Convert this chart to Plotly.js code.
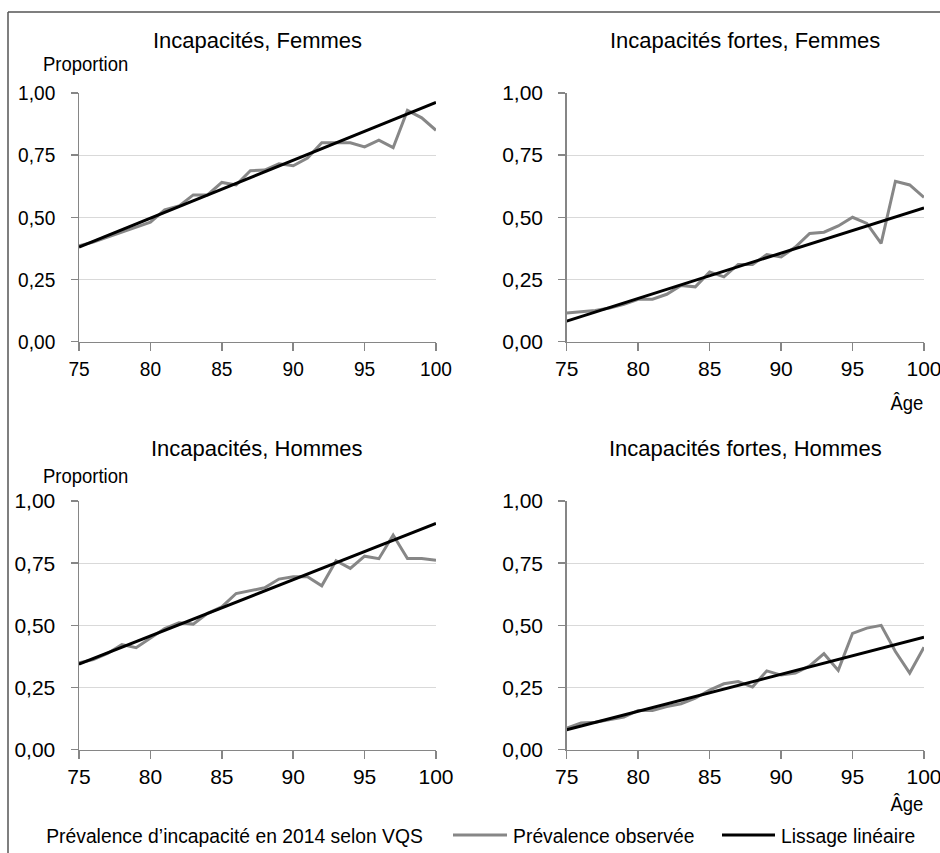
<!DOCTYPE html>
<html>
<head>
<meta charset="utf-8">
<script src="https://cdn.plot.ly/plotly-3.0.1.min.js"></script>
<style>
  html, body { margin: 0; padding: 0; background: #ffffff; }
  #chart { width: 940px; height: 853px; }
</style>
</head>
<body>
<div id="chart"></div>
<script>
// ---- Data ----
const ages = [75,76,77,78,79,80,81,82,83,84,85,86,87,88,89,90,91,92,93,94,95,96,97,98,99,100];

const femmesIncap = [0.385,0.400,0.420,0.440,0.460,0.480,0.530,0.545,0.590,0.590,0.640,0.630,0.687,0.690,0.715,0.707,0.738,0.800,0.800,0.800,0.783,0.810,0.780,0.930,0.900,0.850];
const femmesFortes = [0.115,0.120,0.125,0.135,0.150,0.170,0.170,0.190,0.225,0.220,0.280,0.260,0.310,0.310,0.350,0.340,0.380,0.435,0.440,0.465,0.500,0.475,0.395,0.645,0.630,0.580];
const hommesIncap = [0.350,0.362,0.387,0.423,0.410,0.447,0.487,0.510,0.505,0.548,0.574,0.628,0.639,0.651,0.686,0.695,0.695,0.659,0.760,0.729,0.778,0.768,0.863,0.769,0.769,0.762];
const hommesFortes = [0.087,0.107,0.110,0.120,0.131,0.158,0.158,0.174,0.185,0.207,0.240,0.265,0.274,0.252,0.317,0.300,0.308,0.337,0.386,0.319,0.468,0.489,0.500,0.395,0.308,0.412];

// Linear smoothing, read at both ends of the age range
const fitAges = [75, 100];
const femmesIncapFit = [0.380, 0.962];
const femmesFortesFit = [0.082, 0.538];
const hommesIncapFit = [0.344, 0.910];
const hommesFortesFit = [0.080, 0.452];

const panelTitles = ["Incapacités, Femmes", "Incapacités fortes, Femmes", "Incapacités, Hommes", "Incapacités fortes, Hommes"];
const yTickVals = [0, 0.25, 0.5, 0.75, 1];
const xTickVals = [75, 80, 85, 90, 95, 100];
const seriesNames = ["Prévalence observée", "Lissage linéaire"];
const sourceText = "Prévalence d’incapacité en 2014 selon VQS";
const yLabel = "Proportion";
const xLabel = "Âge";

// ---- Styling ----
const W = 940, H = 853;
const px = x => x / W;
const py = y => 1 - y / H;
const narrow = '"Liberation Sans Narrow", "Arial Narrow", "Liberation Sans", Arial, sans-serif';
const regular = '"Liberation Sans", Arial, sans-serif';
const grayCol = '#878787';
const axisCol = '#868686';
const tickScale = 0.91;     // horizontal condensing of tick labels
const labelScale = 0.88;    // "Proportion", "Âge"
const legendScale = 0.92;   // legend row

const observed = [femmesIncap, femmesFortes, hommesIncap, hommesFortes];
const fits = [femmesIncapFit, femmesFortesFit, hommesIncapFit, hommesFortesFit];

const traces = [];
for (let i = 0; i < 4; i++) {
  const s = i === 0 ? '' : String(i + 1);
  traces.push({
    x: ages, y: observed[i], type: 'scatter', mode: 'lines',
    xaxis: 'x' + s, yaxis: 'y' + s, name: seriesNames[0], showlegend: false,
    line: { color: grayCol, width: 3 }, hoverinfo: 'x+y'
  });
  traces.push({
    x: fitAges, y: fits[i], type: 'scatter', mode: 'lines',
    xaxis: 'x' + s, yaxis: 'y' + s, name: seriesNames[1], showlegend: false,
    line: { color: '#000000', width: 3 }, hoverinfo: 'x+y'
  });
}

function xAxis(domain, anchor) {
  return {
    domain: domain, anchor: anchor, range: [75, 100], fixedrange: true,
    tickvals: xTickVals, ticks: 'outside', ticklen: 8, tickwidth: 1.5, tickcolor: axisCol,
    showline: true, linecolor: axisCol, linewidth: 1.5, showgrid: false, zeroline: false,
    ticklabeloverflow: 'allow',
    tickfont: { family: narrow, size: 21, color: '#000' }
  };
}
function yAxis(domain, anchor) {
  return {
    domain: domain, anchor: anchor, range: [0, 1], fixedrange: true,
    tickvals: yTickVals, tickformat: '.2f', ticks: 'outside', ticklen: 7, tickwidth: 1.5, tickcolor: axisCol,
    showline: true, linecolor: axisCol, linewidth: 1.5, showgrid: true, gridcolor: '#d9d9d9', gridwidth: 1,
    zeroline: false, ticklabelstandoff: 11, ticklabeloverflow: 'allow',
    tickfont: { family: narrow, size: 21, color: '#000' }
  };
}

const xL = [px(79), px(436)], xR = [px(566.7), px(924)];
const yT = [py(341.5), py(93)], yB = [py(749.7), py(501)];

const ann = (text, x, y, xanchor, font, size, scale) => ({
  text: text, xref: 'paper', yref: 'paper', x: x, y: y, xanchor: xanchor, yanchor: 'middle',
  showarrow: false, font: { family: font, size: size, color: '#000' }, _scale: scale
});

const annotationsDef = [
  ann(panelTitles[0], px(257), py(40), 'center', regular, 22, 1),
  ann(panelTitles[1], px(745), py(40), 'center', regular, 22, 1),
  ann(panelTitles[2], px(257), py(448), 'center', regular, 22, 1),
  ann(panelTitles[3], px(745), py(448), 'center', regular, 22, 1),
  ann(yLabel, px(41), py(63), 'left', narrow, 21, labelScale),
  ann(yLabel, px(41), py(476), 'left', narrow, 21, labelScale),
  ann(xLabel, px(925), py(403), 'right', narrow, 21, labelScale),
  ann(xLabel, px(925), py(803), 'right', narrow, 21, labelScale),
  ann(sourceText, px(44), py(835), 'left', narrow, 21, legendScale),
  ann(seriesNames[0], px(511), py(835), 'left', narrow, 21, legendScale),
  ann(seriesNames[1], px(779), py(835), 'left', narrow, 21, legendScale)
];
const annotations = annotationsDef.map(a => { const c = Object.assign({}, a); delete c._scale; return c; });

const shapes = [
  { type: 'line', xref: 'paper', yref: 'paper', x0: px(8), x1: px(8), y0: py(12), y1: 0, line: { color: '#555', width: 1.5 } },
  { type: 'line', xref: 'paper', yref: 'paper', x0: px(8), x1: 1, y0: py(12), y1: py(12), line: { color: '#555', width: 1.5 } },
  { type: 'line', xref: 'paper', yref: 'paper', x0: px(453), x1: px(507), y0: py(835), y1: py(835), line: { color: grayCol, width: 3 } },
  { type: 'line', xref: 'paper', yref: 'paper', x0: px(722), x1: px(775), y0: py(835), y1: py(835), line: { color: '#000', width: 3 } }
];

const layout = {
  width: W, height: H,
  margin: { l: 0, r: 0, t: 0, b: 0 },
  paper_bgcolor: '#ffffff', plot_bgcolor: '#ffffff',
  separators: ', ',
  showlegend: false,
  xaxis: xAxis(xL, 'y'), yaxis: yAxis(yT, 'x'),
  xaxis2: xAxis(xR, 'y2'), yaxis2: yAxis(yT, 'x2'),
  xaxis3: xAxis(xL, 'y3'), yaxis3: yAxis(yB, 'x3'),
  xaxis4: xAxis(xR, 'y4'), yaxis4: yAxis(yB, 'x4'),
  annotations: annotations,
  shapes: shapes
};

// Condense texts horizontally around their anchor side (dx: small extra shift)
function condense(t, side, s, dx) {
  if (s === 1 && !dx) return;
  const bb = t.getBBox();
  const lx = side === 'right' ? bb.x + bb.width : side === 'left' ? bb.x : bb.x + bb.width / 2;
  const existing = t.getAttribute('transform') || '';
  t.setAttribute('transform', existing + ' translate(' + (lx + (dx || 0)) + ',0) scale(' + s + ',1) translate(' + (-lx) + ',0)');
}

Plotly.newPlot('chart', traces, layout, { displayModeBar: false, staticPlot: true }).then(gd => {
  gd.querySelectorAll('g.ytick text').forEach(t => condense(t, 'right', tickScale, 0));
  gd.querySelectorAll('g.xtick text').forEach(t => {
    // keep the right-hand "100" labels inside the page edge
    const r = t.getBoundingClientRect();
    const dx = (r.left + r.width / 2 > 900) ? -2 : 0;
    condense(t, 'center', tickScale, dx);
  });
  gd.querySelectorAll('g.annotation').forEach(g => {
    const i = +g.getAttribute('data-index');
    const a = annotationsDef[i];
    if (!a) return;
    g.querySelectorAll('text').forEach(t => condense(t, a.xanchor, a._scale, 0));
  });
});
</script>
</body>
</html>
